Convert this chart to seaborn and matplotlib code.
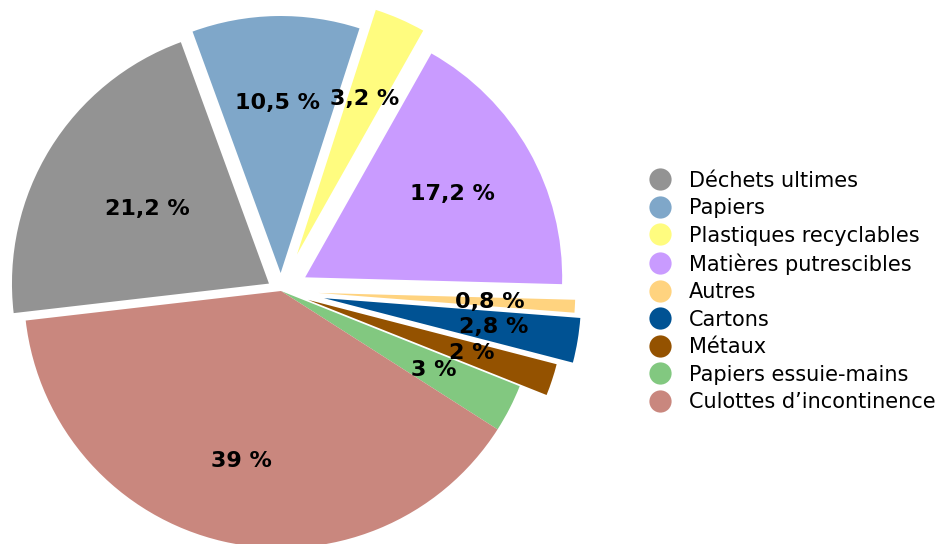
import matplotlib
matplotlib.use("Agg")
import matplotlib.pyplot as plt
import seaborn as sns
import numpy as np
from matplotlib.lines import Line2D

categories = ["Déchets ultimes", "Papiers", "Plastiques recyclables",
              "Matières putrescibles", "Autres", "Cartons", "Métaux",
              "Papiers essuie-mains", "Culottes d’incontinence"]
values = [21.2, 10.5, 3.2, 17.2, 0.8, 2.8, 2.0, 3.0, 39.0]
labels = ["21,2 %", "10,5 %", "3,2 %", "17,2 %", "0,8 %", "2,8 %", "2 %", "3 %", "39 %"]
colors = ["#939393", "#7FA7C9", "#FFFC7F", "#C99BFF", "#FFD37F",
          "#005293", "#945200", "#82C880", "#C9877E"]
explode = [0.055, 0.07, 0.155, 0.108, 0.145, 0.17, 0.11, 0.0, 0.0]
label_frac = [0.556, 0.66, 0.66, 0.66, 0.67, 0.67, 0.67, 0.67, 0.68]

sns.set_theme(style="white")
plt.rcParams["font.family"] = ["DejaVu Sans"]
palette = sns.color_palette(colors)

W, H = 939, 544
cx, cy, R = 281, 291, 257
fig = plt.figure(figsize=(W / 100, H / 100), dpi=100)
ax = fig.add_axes([0, 0, 1, 1])

wedges, _ = ax.pie(values, colors=palette, explode=explode, startangle=186.6,
                   counterclock=False, radius=1.0,
                   wedgeprops=dict(linewidth=0))

for w, lab, f in zip(wedges, labels, label_frac):
    th = np.deg2rad((w.theta1 + w.theta2) / 2)
    x0, y0 = w.center
    ax.text(x0 + f * w.r * np.cos(th), y0 + f * w.r * np.sin(th), lab,
            ha="center", va="center", fontsize=16, fontweight="bold", color="black")

ax.set_xlim(-cx / R, (W - cx) / R)
ax.set_ylim(-(H - cy) / R, cy / R)
ax.set_aspect("equal", adjustable="box")
ax.axis("off")

handles = [Line2D([], [], marker="o", linestyle="", markersize=16,
                  markerfacecolor=c, markeredgewidth=0) for c in palette]
leg = fig.legend(handles, categories, loc="center left",
                 bbox_to_anchor=(650 / W, 1 - 291.5 / H), frameon=False,
                 fontsize=15, handlelength=1.0, handletextpad=0.85,
                 labelspacing=0.36, borderpad=0, borderaxespad=0)
for t in leg.get_texts():
    t.set_color("black")

fig.savefig("out.png", dpi=100, facecolor="white")
